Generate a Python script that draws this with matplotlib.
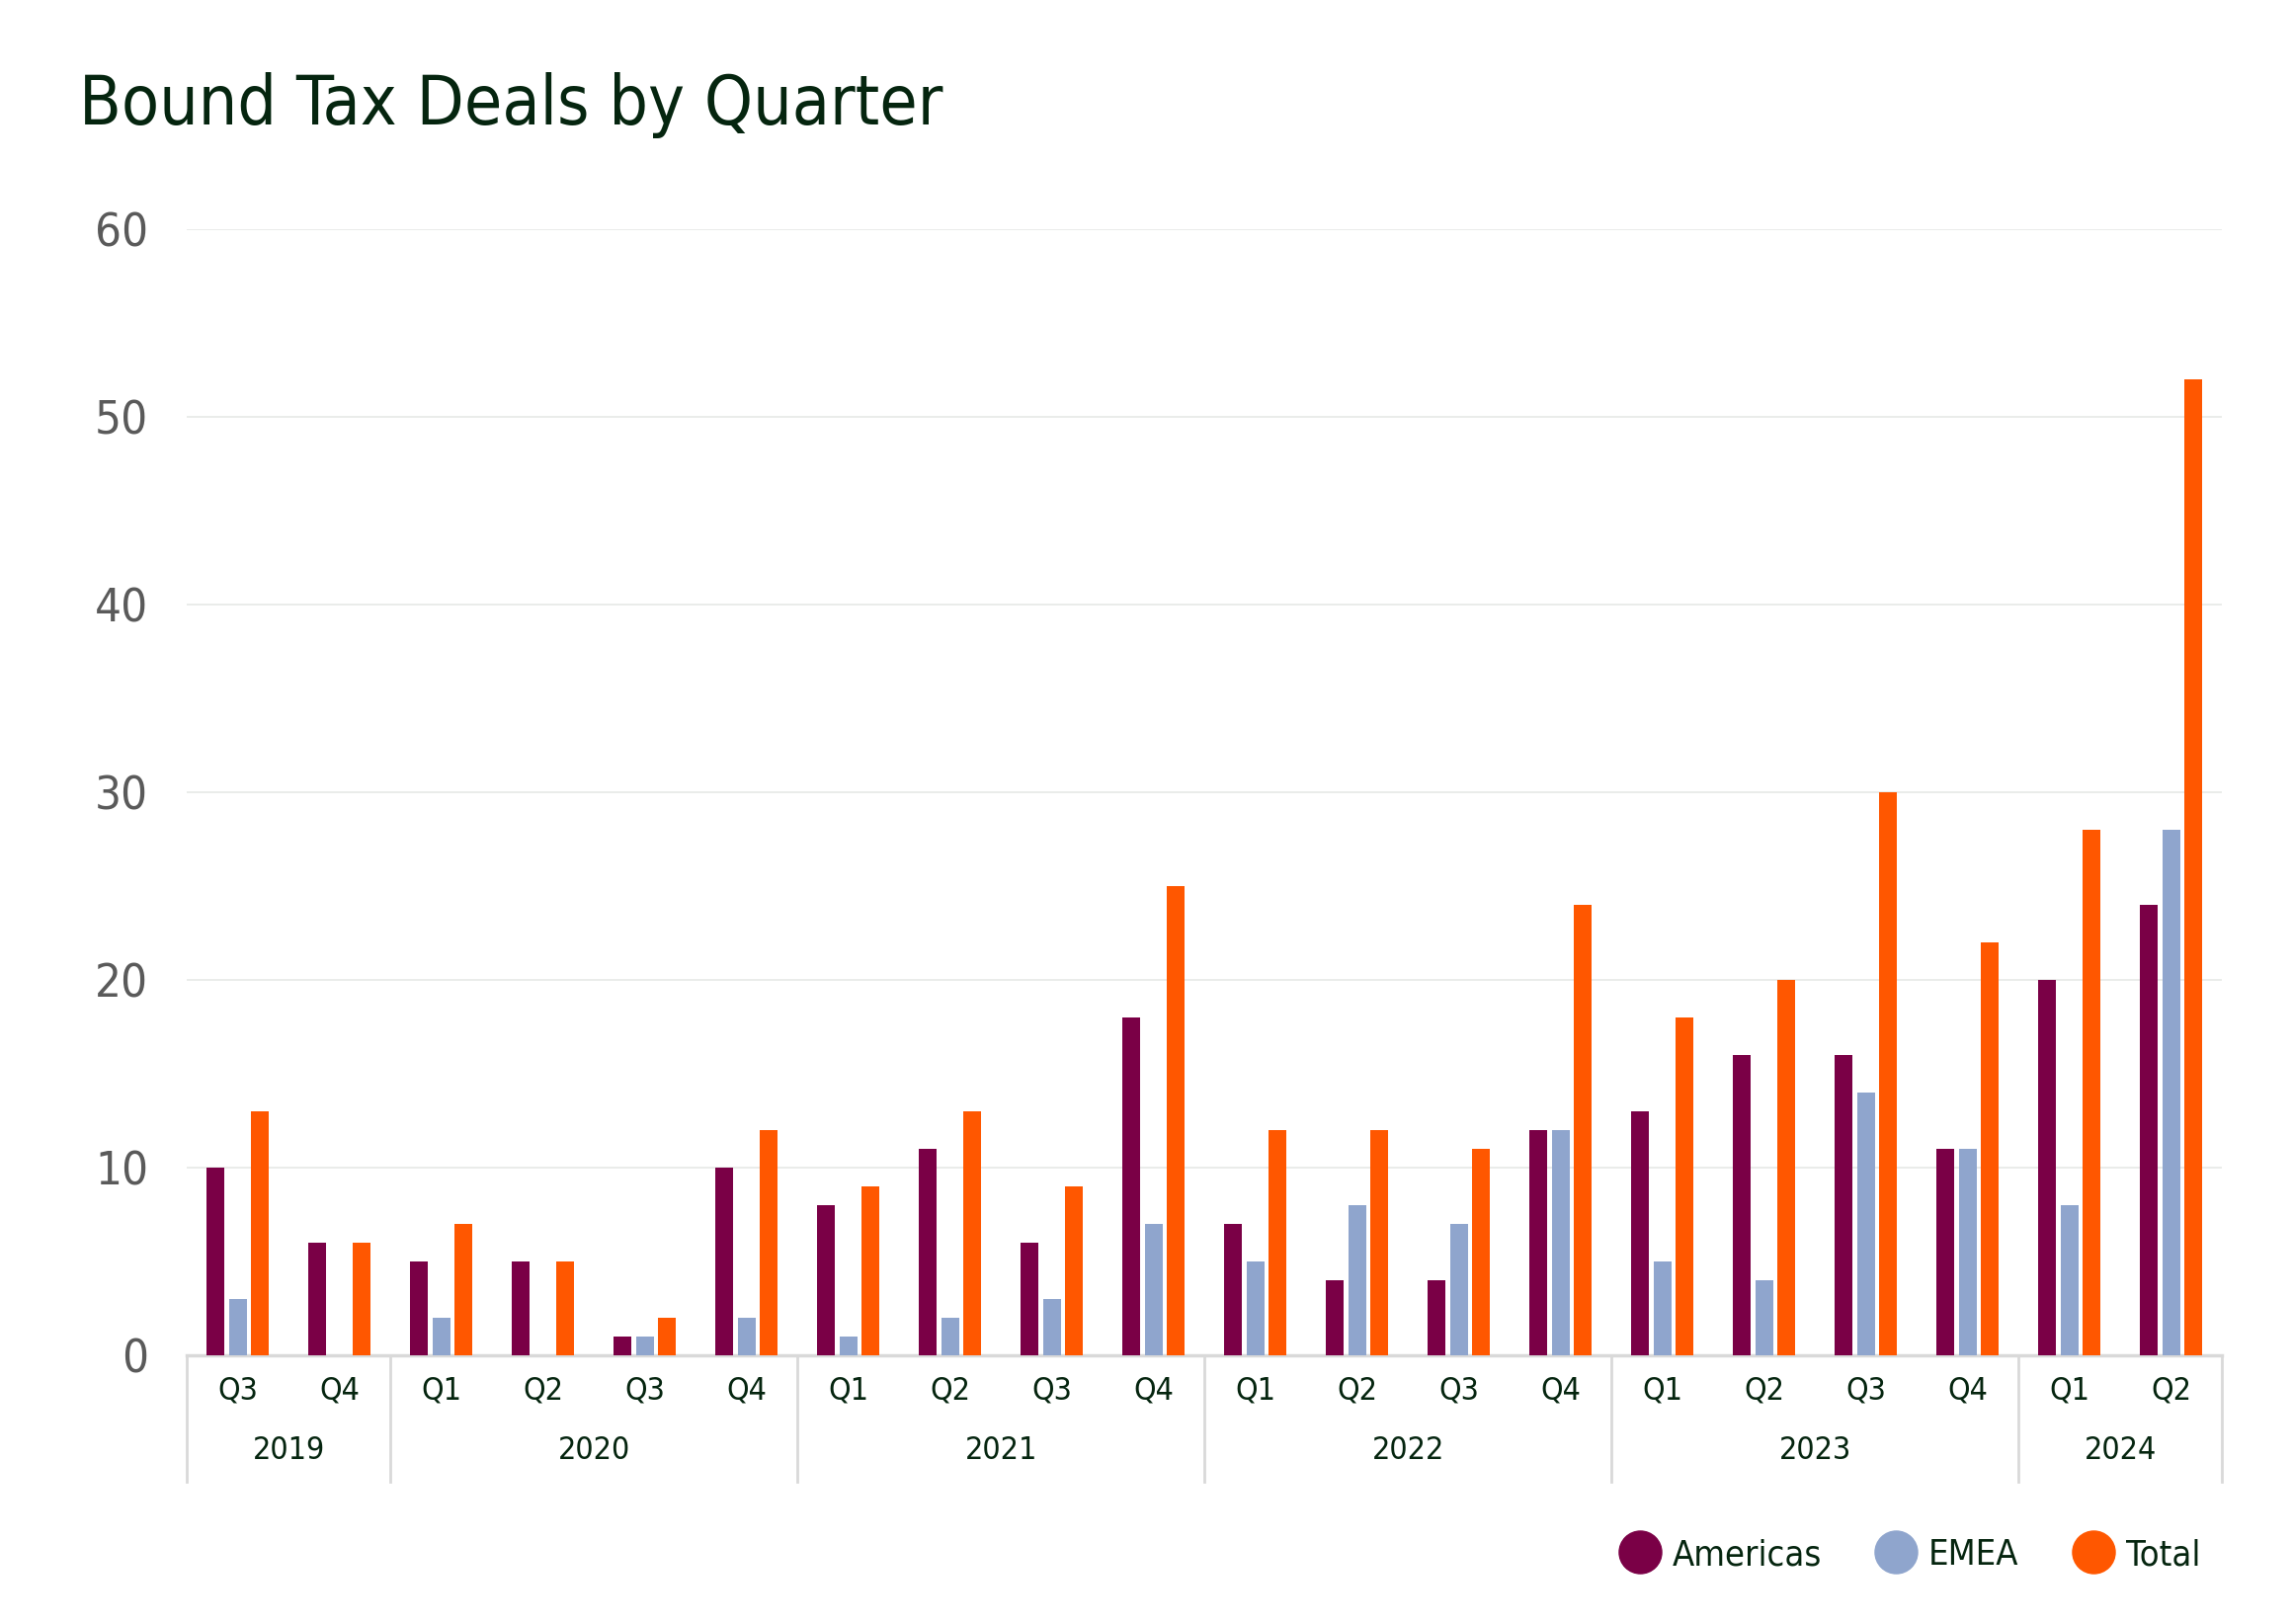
import matplotlib
matplotlib.use('Agg')
import matplotlib.pyplot as plt
from matplotlib.lines import Line2D
from matplotlib import font_manager
import numpy as np

# Schmale Schrift suchen (Condensed/Narrow), sonst Roboto
cond = None
for f in font_manager.fontManager.ttflist:
    fn = f.fname.lower()
    if ('condensed' in fn or 'narrow' in fn) and 'bold' not in fn and 'italic' not in fn \
            and 'oblique' not in fn and 'light' not in fn and 'black' not in fn:
        cond = f
        break
if cond is not None:
    plt.rcParams['font.family'] = [cond.name, 'DejaVu Sans']
    plt.rcParams['font.stretch'] = cond.stretch
    narrow = True
else:
    plt.rcParams['font.family'] = ['Roboto', 'DejaVu Sans']
    narrow = False

# Daten
years = ['2019', '2020', '2021', '2022', '2023', '2024']
quarters_per_year = [2, 4, 4, 4, 4, 2]
quarters = ['Q3', 'Q4',
            'Q1', 'Q2', 'Q3', 'Q4',
            'Q1', 'Q2', 'Q3', 'Q4',
            'Q1', 'Q2', 'Q3', 'Q4',
            'Q1', 'Q2', 'Q3', 'Q4',
            'Q1', 'Q2']
americas = [10, 6, 5, 5, 1, 10, 8, 11, 6, 18, 7, 4, 4, 12, 13, 16, 16, 11, 20, 24]
emea = [3, 0, 2, 0, 1, 2, 1, 2, 3, 7, 5, 8, 7, 12, 5, 4, 14, 11, 8, 28]
total = [13, 6, 7, 5, 2, 12, 9, 13, 9, 25, 12, 12, 11, 24, 18, 20, 30, 22, 28, 52]
series_names = ['Americas', 'EMEA', 'Total']

C_AM = '#7a0046'
C_EM = '#8fa5cd'
C_TO = '#ff5700'
DARK = '#05250f'
GRID = '#e6e9e6'
AXIS = '#d9d9d9'

fs_title = 50 if narrow else 45
fs_tick = 34 if narrow else 30
fs_lab = 23 if narrow else 20
fs_leg = 26 if narrow else 23

fig = plt.figure(figsize=(23.2, 16.44), dpi=100, facecolor='white')
ax = fig.add_axes([0.0815, 0.1654, 0.888, 0.6935])

x = np.arange(len(quarters))
w = 0.175
off = 0.218
for vals, c, dx in [(americas, C_AM, -off), (emea, C_EM, 0), (total, C_TO, off)]:
    ax.bar(x + dx, vals, width=w, color=c, zorder=3)

ax.set_xlim(-0.5, len(quarters) - 0.5)
ax.set_ylim(0, 60)
ax.set_yticks(range(0, 61, 10))
ax.yaxis.grid(True, color=GRID, linewidth=1.2, zorder=0)
ax.tick_params(axis='y', length=0, pad=28, labelsize=fs_tick, labelcolor='#5a5a5a')
ax.tick_params(axis='x', length=0)
ax.set_xticks([])
for s in ['top', 'right', 'left']:
    ax.spines[s].set_visible(False)
ax.spines['bottom'].set_color(AXIS)
ax.spines['bottom'].set_linewidth(2.5)

# Quartals- und Jahresbeschriftung
xt = ax.get_xaxis_transform()
for i, q in enumerate(quarters):
    ax.text(i, -0.0316, q, transform=xt, ha='center', va='center',
            fontsize=fs_lab, color=DARK)

start = 0
bounds = [-0.5]
for yr, n in zip(years, quarters_per_year):
    mid = start + (n - 1) / 2
    ax.text(mid, -0.0842, yr, transform=xt, ha='center', va='center',
            fontsize=fs_lab, color=DARK)
    start += n
    bounds.append(start - 0.5)
for b in bounds:
    ax.plot([b, b], [0, -0.1123], transform=xt, color=AXIS, linewidth=2,
            clip_on=False)

# Titel
fig.text(0.0345, 1 - 126 / 1644, 'Bound Tax Deals by Quarter', fontsize=fs_title,
         color=DARK, ha='left', va='baseline')

# Legende
handles = [Line2D([], [], marker='o', linestyle='none', markersize=31,
                  markerfacecolor=c, markeredgecolor=c)
           for c in [C_AM, C_EM, C_TO]]
fig.legend(handles, series_names, loc='center right',
           bbox_to_anchor=(0.974, 0.0425), ncol=3, frameon=False,
           fontsize=fs_leg, labelcolor=DARK, handletextpad=0.3,
           columnspacing=1.5, handlelength=1.2)

fig.savefig('out.png', dpi=100, facecolor='white')
